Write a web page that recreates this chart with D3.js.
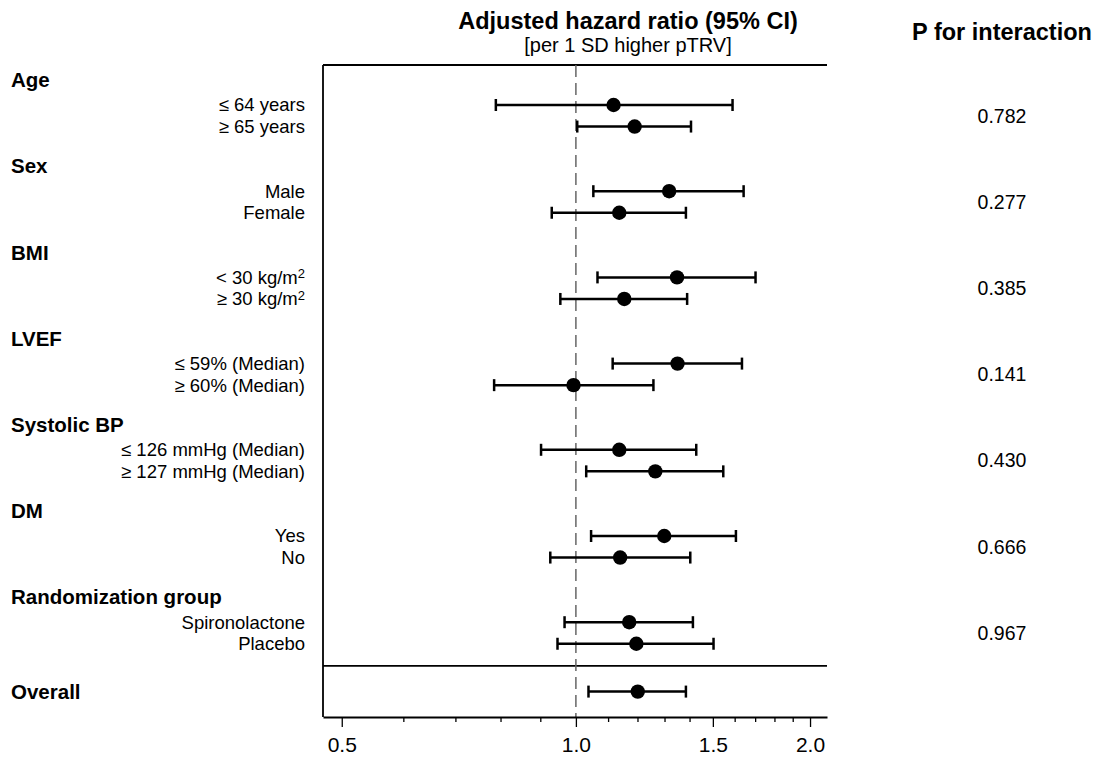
<!DOCTYPE html>
<html>
<head>
<meta charset="utf-8">
<script src="https://cdn.jsdelivr.net/npm/d3@7"></script>
<style>
  body { margin: 0; background: #fff; }
  text { font-family: "Liberation Sans", Arial, sans-serif; fill: #000; }
</style>
</head>
<body>
<svg id="chart" width="1097" height="757"></svg>
<script>
// subgroup names and estimates (hazard ratio per 1 SD higher pTRV)
const groups = ['Age', 'Sex', 'BMI', 'LVEF', 'Systolic BP', 'DM', 'Randomization group'];
const subgroups = [
  ['≤ 64 years', '≥ 65 years'],
  ['Male', 'Female'],
  ['< 30 kg/m^2', '≥ 30 kg/m^2'],
  ['≤ 59% (Median)', '≥ 60% (Median)'],
  ['≤ 126 mmHg (Median)', '≥ 127 mmHg (Median)'],
  ['Yes', 'No'],
  ['Spironolactone', 'Placebo']
];
const hr = [[1.118, 1.190], [1.318, 1.137], [1.349, 1.154], [1.351, 0.993], [1.137, 1.265], [1.299, 1.140], [1.171, 1.196]];
const lower = [[0.789, 1.004], [1.053, 0.931], [1.066, 0.955], [1.115, 0.785], [0.902, 1.031], [1.046, 0.927], [0.967, 0.947]];
const upper = [[1.590, 1.406], [1.643, 1.385], [1.702, 1.390], [1.635, 1.258], [1.428, 1.547], [1.606, 1.403], [1.414, 1.503]];
const pInteraction = ['0.782', '0.277', '0.385', '0.141', '0.430', '0.666', '0.967'];
const overallHR = 1.201, overallLower = 1.038, overallUpper = 1.385;
const majorTicks = [0.5, 1.0, 1.5, 2.0];
const minorTicks = [0.6, 0.7, 0.8, 0.9, 1.1, 1.2, 1.3, 1.4, 1.6, 1.7, 1.8, 1.9];

const svg = d3.select('#chart');
const plotLeft = 323, plotRight = 827, plotTop = 65, axisY = 717;

const x = d3.scaleLog().domain([0.473, 2.103]).range([plotLeft, plotRight]);
// row index -> pixel (4 rows per group: header, two subgroups, gap)
const y = d3.scaleLinear().domain([1, 26]).range([105, 643.75]);

// flatten the rows
const rows = [];
groups.forEach((g, gi) => {
  subgroups[gi].forEach((label, si) => {
    rows.push({ label, hr: hr[gi][si], lo: lower[gi][si], hi: upper[gi][si], yy: y(gi * 4 + 1 + si) });
  });
});
rows.push({ label: null, hr: overallHR, lo: overallLower, hi: overallUpper, yy: y(28.22) });

// titles
svg.append('text').attr('x', 628).attr('y', 29).attr('text-anchor', 'middle')
  .style('font-size', '23.5px').style('font-weight', 'bold').text('Adjusted hazard ratio (95% CI)');
svg.append('text').attr('x', 628).attr('y', 52).attr('text-anchor', 'middle')
  .style('font-size', '20px').text('[per 1 SD higher pTRV]');
svg.append('text').attr('x', 1002).attr('y', 40).attr('text-anchor', 'middle')
  .style('font-size', '23.5px').style('font-weight', 'bold').text('P for interaction');

// frame lines
const frame = svg.append('g').attr('stroke', '#000').attr('stroke-width', 1.8);
frame.append('line').attr('x1', plotLeft).attr('x2', plotRight).attr('y1', plotTop).attr('y2', plotTop);
frame.append('line').attr('x1', plotLeft).attr('x2', plotLeft).attr('y1', plotTop).attr('y2', axisY);
frame.append('line').attr('x1', plotLeft).attr('x2', plotRight).attr('y1', y(27.03)).attr('y2', y(27.03));

// reference line at HR = 1
svg.append('line')
  .attr('x1', x(1)).attr('x2', x(1)).attr('y1', plotTop).attr('y2', axisY)
  .attr('stroke', '#666').attr('stroke-width', 1.5).attr('stroke-dasharray', '12,6');

// axes
const majorAxis = svg.append('g').attr('transform', `translate(0,${axisY})`)
  .call(d3.axisBottom(x).tickValues(majorTicks).tickFormat(d3.format('.1f')).tickSize(10).tickSizeOuter(0).tickPadding(10));
majorAxis.select('.domain').attr('stroke-width', 1.8);
majorAxis.selectAll('line').attr('stroke-width', 1.3);
majorAxis.selectAll('text').style('font-size', '21px').attr('font-family', null);

const minorAxis = svg.append('g').attr('transform', `translate(0,${axisY})`)
  .call(d3.axisBottom(x).tickValues(minorTicks).tickFormat('').tickSize(5).tickSizeOuter(0));
minorAxis.select('.domain').remove();
minorAxis.selectAll('line').attr('stroke-width', 1.3);

// group headers and p-values
groups.forEach((g, gi) => {
  svg.append('text').attr('x', 11).attr('y', y(gi * 4 + 1) - 25).attr('dy', '0.35em')
    .style('font-size', '20.5px').style('font-weight', 'bold').text(g);
  svg.append('text').attr('x', 1002).attr('y', (y(gi * 4 + 1) + y(gi * 4 + 2)) / 2).attr('dy', '0.35em')
    .attr('text-anchor', 'middle').style('font-size', '19.5px').text(pInteraction[gi]);
});
svg.append('text').attr('x', 11).attr('y', y(28.22)).attr('dy', '0.35em')
  .style('font-size', '20.5px').style('font-weight', 'bold').text('Overall');

// subgroup labels (with superscript for ^2)
rows.filter(d => d.label).forEach(d => {
  const t = svg.append('text').attr('x', 305).attr('y', d.yy).attr('dy', '0.35em')
    .attr('text-anchor', 'end').style('font-size', '18.5px');
  const parts = d.label.split('^');
  t.append('tspan').text(parts[0]);
  if (parts[1]) t.append('tspan').attr('dy', '-0.45em').style('font-size', '13px').text(parts[1]);
});

// error bars and points
const marks = svg.append('g');
const bar = marks.selectAll('g.row').data(rows).enter().append('g').attr('class', 'row');
bar.append('line')
  .attr('x1', d => x(d.lo)).attr('x2', d => x(d.hi)).attr('y1', d => d.yy).attr('y2', d => d.yy)
  .attr('stroke', '#000').attr('stroke-width', 2.5);
bar.append('line')
  .attr('x1', d => x(d.lo)).attr('x2', d => x(d.lo)).attr('y1', d => d.yy - 6).attr('y2', d => d.yy + 6)
  .attr('stroke', '#000').attr('stroke-width', 2.5);
bar.append('line')
  .attr('x1', d => x(d.hi)).attr('x2', d => x(d.hi)).attr('y1', d => d.yy - 6).attr('y2', d => d.yy + 6)
  .attr('stroke', '#000').attr('stroke-width', 2.5);
bar.append('circle')
  .attr('cx', d => x(d.hr)).attr('cy', d => d.yy).attr('r', 7.2).attr('fill', '#000');
</script>
</body>
</html>
